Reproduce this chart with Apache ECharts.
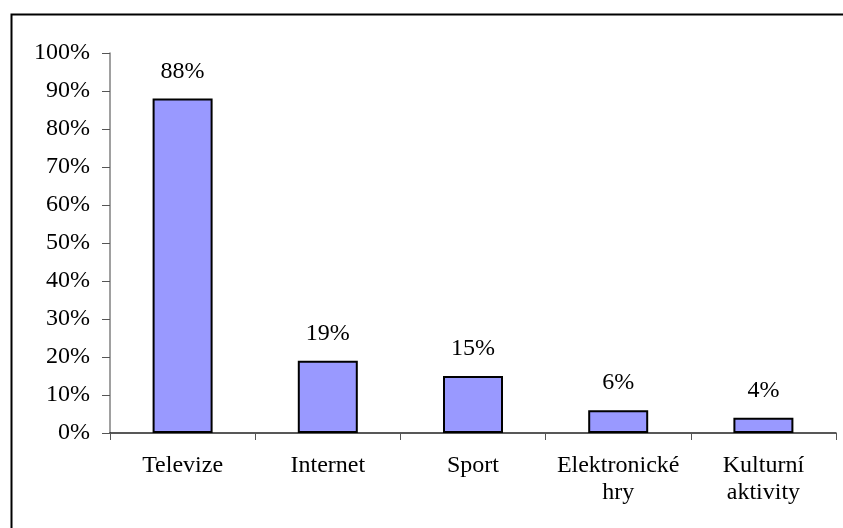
<!DOCTYPE html>
<html><head><meta charset="utf-8">
<script src="https://cdn.jsdelivr.net/npm/echarts@6/dist/echarts.min.js"></script>
<style>html,body{margin:0;padding:0;background:#fff}#c{width:843px;height:528px}</style>
</head><body><div id="c"></div>
<script>
const categories = ['Televize', 'Internet', 'Sport', 'Elektronické\nhry', 'Kulturní\naktivity'];
const values = [88, 19, 15, 6, 4];
const yTicks = { min: 0, max: 100, interval: 10 };

const font = 'Liberation Serif';
const chart = echarts.init(document.getElementById('c'), null, { renderer: 'canvas' });
chart.setOption({
  animation: false,
  backgroundColor: '#fff',
  graphic: [{
    type: 'rect', left: 9, top: 12, shape: { width: 1000, height: 1000 },
    style: { fill: 'none', stroke: '#000', lineWidth: 2 }, silent: true, z: 100
  }],
  grid: { left: 110, right: 7, top: 53, bottom: 95 },
  xAxis: {
    type: 'category', data: categories,
    axisLine: { lineStyle: { color: '#222', width: 1.5 } },
    axisTick: { show: true, length: 7, lineStyle: { color: '#555' } },
    axisLabel: { color: '#000', fontFamily: font, fontSize: 24, lineHeight: 27, margin: 19, interval: 0 }
  },
  yAxis: {
    type: 'value', min: yTicks.min, max: yTicks.max, interval: yTicks.interval,
    axisLine: { show: true, lineStyle: { color: '#808080', width: 1.5 } },
    axisTick: { show: true, length: 8, lineStyle: { color: '#555' } },
    splitLine: { show: false },
    axisLabel: { color: '#000', fontFamily: font, fontSize: 24, margin: 20, formatter: '{value}%' }
  },
  series: [{
    type: 'bar', data: values, barWidth: 60,
    itemStyle: { color: '#9999FF', borderColor: '#000', borderWidth: 2 },
    label: { show: true, position: 'top', distance: 15, color: '#000', fontFamily: font, fontSize: 24, formatter: '{c}%' }
  }]
});
</script></body></html>
